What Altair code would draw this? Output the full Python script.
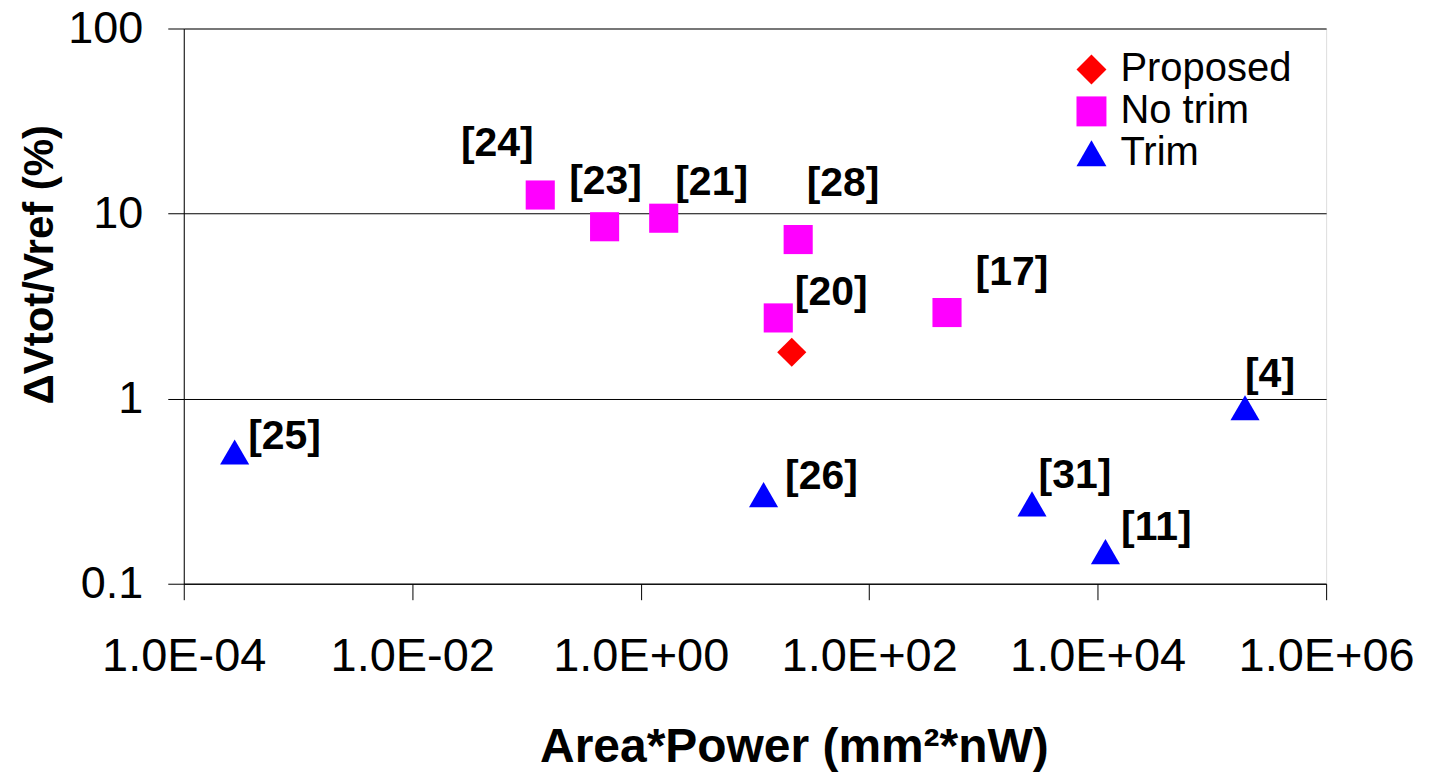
import altair as alt
import pandas as pd
import math

# ---- data ----
refs = ["Proposed", "[24]", "[23]", "[21]", "[28]", "[20]", "[17]",
        "[25]", "[26]", "[31]", "[11]", "[4]"]
series = ["Proposed", "No trim", "No trim", "No trim", "No trim", "No trim", "No trim",
          "Trim", "Trim", "Trim", "Trim", "Trim"]
area_power = [21.0, 0.132, 0.483, 1.59, 23.9, 16.0, 480.0,
              2.79e-4, 11.9, 2663.0, 11700.0, 195000.0]
dv_vref = [1.78, 12.6, 8.49, 9.44, 7.24, 2.73, 2.92,
           0.515, 0.303, 0.270, 0.149, 0.893]

series_order = ["Proposed", "No trim", "Trim"]
series_colors = ["#FF0000", "#FF00FF", "#0000FF"]
series_shapes = ["diamond", "square", "triangle-up"]

x_ticks = [1e-4, 1e-2, 1e0, 1e2, 1e4, 1e6]
x_tick_labels = ["1.0E-04", "1.0E-02", "1.0E+00", "1.0E+02", "1.0E+04", "1.0E+06"]
y_ticks = [0.1, 1, 10, 100]

# label offsets (styling, pixels) relative to the point
label_offsets = {
    "[24]": (-43, -51), "[23]": (1, -45), "[21]": (48, -35), "[28]": (45, -56),
    "[20]": (53, -25), "[17]": (65, -40), "[25]": (50, -15), "[26]": (58, -18),
    "[31]": (43, -28), "[11]": (51, -24), "[4]": (25, -33),
}

df = pd.DataFrame({"ref": refs, "series": series, "x": area_power, "y": dv_vref})

FONT = "Liberation Sans"

# build label expression for x ticks
expr = "''"
for v, lab in reversed(list(zip(x_ticks, x_tick_labels))):
    expr = f"(abs(log(datum.value)/LN10 - ({math.log10(v):.0f})) < 0.01 ? '{lab}' : {expr})"

xscale = alt.Scale(type="log", domain=[1e-4, 1e6], nice=False)
yscale = alt.Scale(type="log", domain=[0.1, 100], nice=False)

xenc = alt.X("x:Q", scale=xscale, axis=alt.Axis(
    values=x_ticks, labelExpr=expr, title="Area*Power (mm²*nW)",
    grid=False, tickSize=16, tickColor="black", domainColor="black",
    labelFont=FONT, labelFontSize=47, labelColor="black", labelPadding=34,
    labelFlush=False, labelOverlap=False,
    titleFont=FONT, titleFontSize=48, titleFontWeight="bold", titleColor="black",
    titlePadding=44, titleX=611))
yenc = alt.Y("y:Q", scale=yscale, axis=alt.Axis(
    values=y_ticks, format="~g", title="ΔVtot/Vref (%)",
    grid=True, gridColor="black", gridOpacity=1, gridWidth=1,
    tickSize=16, tickColor="black", domainColor="black",
    labelFont=FONT, labelFontSize=45, labelColor="black", labelPadding=25,
    labelFlush=False, labelOverlap=False,
    titleFont=FONT, titleFontSize=42, titleFontWeight="bold", titleColor="black",
    titlePadding=6, titleY=236))

points = alt.Chart(df).mark_point(filled=True, opacity=1, size=850).encode(
    x=xenc, y=yenc,
    color=alt.Color("series:N", scale=alt.Scale(domain=series_order, range=series_colors),
                    legend=alt.Legend(title=None, orient="none", legendX=889, legendY=21,
                                      labelFont=FONT, labelFontSize=40, labelColor="black",
                                      labelLimit=400,
                                      symbolSize=900, labelOffset=9, rowPadding=2,
                                      padding=0, symbolStrokeWidth=0, symbolOpacity=1)),
    shape=alt.Shape("series:N", scale=alt.Scale(domain=series_order, range=series_shapes)),
)

layers = [points]
for ref, (dx, dy) in label_offsets.items():
    layers.append(
        alt.Chart(df).transform_filter(alt.datum.ref == ref).mark_text(
            font=FONT, fontSize=41, fontWeight="bold", color="black",
            align="center", baseline="middle", dx=dx, dy=dy
        ).encode(x=alt.X("x:Q", scale=xscale), y=alt.Y("y:Q", scale=yscale), text="ref:N")
    )

chart = alt.layer(*layers).properties(
    width=1144, height=556,
    autosize=alt.AutoSizeParams(type="none"),
    padding={"left": 176, "top": 20, "right": 95, "bottom": 190},
).configure_view(stroke="black", strokeWidth=1).configure(background="white")

chart.save("out.html", embed_options={"renderer": "svg", "actions": False})
